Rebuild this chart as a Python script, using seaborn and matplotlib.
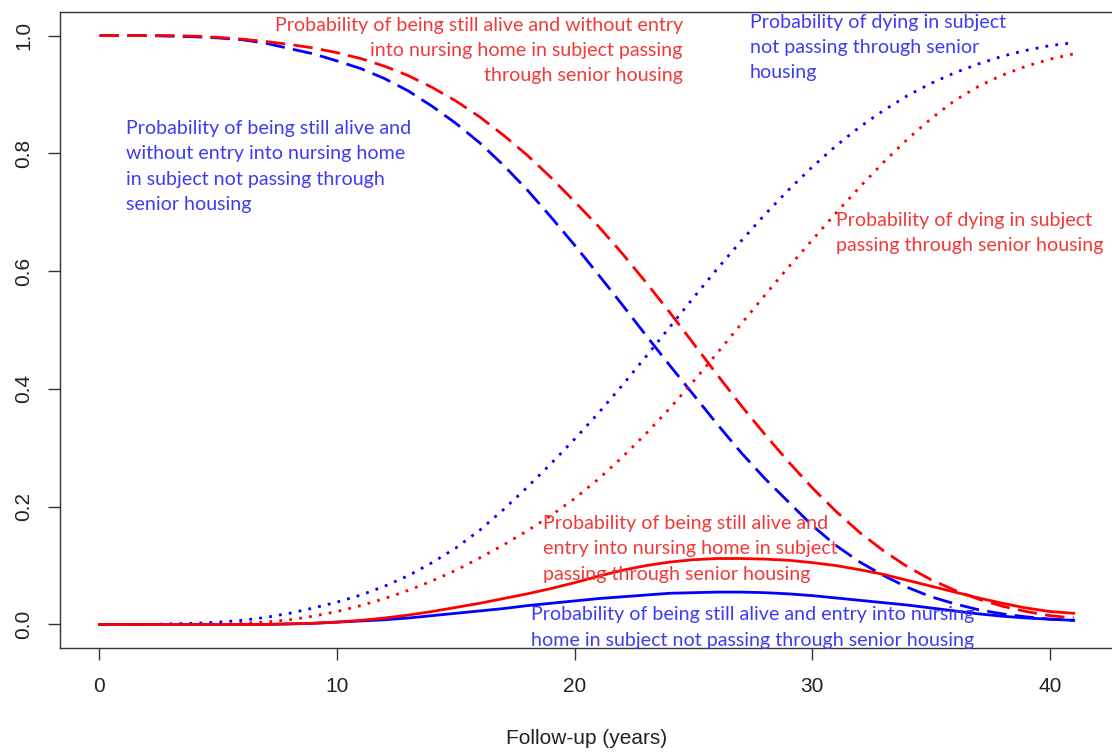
"""Multi-state survival curves: senior housing vs not, in R base-plot style."""

import numpy as np
import pandas as pd
import matplotlib
matplotlib.use("Agg")
import matplotlib.pyplot as plt
import seaborn as sns

# follow-up years
years = list(range(0, 42))

# alive, no nursing home entry
alive_no_nh_not_sh = [1.0, 1.0, 1.0, 0.999, 0.998, 0.996, 0.993, 0.987, 0.978, 0.969,
                      0.957, 0.944, 0.927, 0.906, 0.880, 0.851, 0.818, 0.780, 0.738, 0.692,
                      0.644, 0.594, 0.543, 0.491, 0.440, 0.390, 0.340, 0.292, 0.248, 0.208,
                      0.168, 0.134, 0.106, 0.083, 0.063, 0.047, 0.035, 0.025, 0.018, 0.013,
                      0.009, 0.007]
alive_no_nh_sh = [1.0, 1.0, 1.0, 1.0, 0.999, 0.997, 0.994, 0.990, 0.985, 0.979,
                  0.971, 0.961, 0.948, 0.932, 0.912, 0.889, 0.862, 0.831, 0.797, 0.759,
                  0.718, 0.676, 0.630, 0.581, 0.530, 0.477, 0.424, 0.372, 0.323, 0.276,
                  0.232, 0.192, 0.156, 0.125, 0.098, 0.076, 0.058, 0.043, 0.031, 0.022,
                  0.015, 0.011]

# dying
dead_not_sh = [0.0, 0.0, 0.0, 0.001, 0.002, 0.004, 0.007, 0.012, 0.019, 0.028,
               0.038, 0.050, 0.065, 0.083, 0.105, 0.130, 0.160, 0.195, 0.233, 0.273,
               0.315, 0.359, 0.406, 0.455, 0.505, 0.555, 0.604, 0.651, 0.696, 0.738,
               0.777, 0.813, 0.845, 0.873, 0.898, 0.919, 0.937, 0.952, 0.965, 0.975,
               0.983, 0.988]
dead_sh = [0.0, 0.0, 0.0, 0.0, 0.0, 0.0, 0.002, 0.004, 0.008, 0.014,
           0.022, 0.032, 0.044, 0.058, 0.074, 0.092, 0.113, 0.135, 0.159, 0.185,
           0.214, 0.247, 0.284, 0.324, 0.367, 0.413, 0.461, 0.510, 0.559, 0.607,
           0.653, 0.699, 0.743, 0.785, 0.824, 0.859, 0.890, 0.914, 0.933, 0.948,
           0.960, 0.969]

# alive, with nursing home entry
alive_nh_not_sh = [0.0, 0.0, 0.0, 0.0, 0.0, 0.0, 0.0, 0.0, 0.001, 0.002,
                   0.004, 0.006, 0.008, 0.011, 0.015, 0.019, 0.023, 0.027, 0.032, 0.036,
                   0.040, 0.044, 0.047, 0.050, 0.053, 0.054, 0.055, 0.055, 0.054, 0.052,
                   0.049, 0.045, 0.041, 0.037, 0.033, 0.028, 0.023, 0.018, 0.014, 0.011,
                   0.009, 0.007]
alive_nh_sh = [0.0, 0.0, 0.0, 0.0, 0.0, 0.0, 0.0, 0.0, 0.001, 0.002,
               0.004, 0.007, 0.011, 0.016, 0.022, 0.029, 0.036, 0.044, 0.052, 0.061,
               0.071, 0.082, 0.092, 0.100, 0.106, 0.110, 0.112, 0.112, 0.111, 0.109,
               0.105, 0.100, 0.093, 0.085, 0.075, 0.065, 0.055, 0.045, 0.036, 0.028,
               0.022, 0.019]

x_ticks = [0, 10, 20, 30, 40]
y_ticks = [0.0, 0.2, 0.4, 0.6, 0.8, 1.0]

plt.rcParams["font.family"] = ["Liberation Sans", "DejaVu Sans"]

fig = plt.figure(figsize=(11.12, 7.53), dpi=100)
ax = fig.add_axes([0.0544, 0.1394, 0.9462, 0.8446])

dashed = (0, (7, 3))
dotted = (0, (1, 2.6))
series = [
    (alive_no_nh_not_sh, "#0000FF", dashed),
    (alive_no_nh_sh, "#FF0000", dashed),
    (dead_not_sh, "#0000FF", dotted),
    (dead_sh, "#FF0000", dotted),
    (alive_nh_not_sh, "#0000FF", "-"),
    (alive_nh_sh, "#FF0000", "-"),
]
for vals, col, ls in series:
    df = pd.DataFrame({"t": years, "p": vals})
    sns.lineplot(data=df, x="t", y="p", ax=ax, color=col, linestyle=ls,
                 linewidth=2.0, legend=False)

ax.set_xlim(-1.64, 42.64)
ax.set_ylim(-0.04, 1.04)
ax.set_xticks(x_ticks)
ax.set_xticklabels([str(v) for v in x_ticks])
ax.set_yticks(y_ticks)
ax.set_yticklabels([f"{v:.1f}" for v in y_ticks], rotation=90, va="center")
ax.tick_params(length=8.6, width=1, color="#333333", labelsize=15, labelcolor="#222222")
ax.tick_params(axis="x", pad=12)
ax.tick_params(axis="y", pad=11)
for sp in ax.spines.values():
    sp.set_color("#333333")
    sp.set_linewidth(1)
ax.set_xlabel("Follow-up (years)", fontsize=15, color="#222222", labelpad=24)
ax.set_ylabel("")

blue_txt = "#3C3CF2"
red_txt = "#F03A3A"
font = dict(family=["Lato", "DejaVu Sans"], fontsize=14.1, linespacing=1.6)


def px(x, y):
    # reference pixel -> data coordinates
    return (x - 100) / 23.75, (624 - y) / 590


ax.text(*px(683, 49), "Probability of being still alive and without entry\n"
        "into nursing home in subject passing\nthrough senior housing",
        color=red_txt, ha="right", va="center", multialignment="right", **font)
ax.text(*px(750, 46), "Probability of dying in subject\nnot passing through senior\nhousing",
        color=blue_txt, ha="left", va="center", **font)
ax.text(*px(127, 165), "Probability of being still alive and\nwithout entry into nursing home\n"
        "in subject not passing through\nsenior housing",
        color=blue_txt, ha="left", va="center", **font)
ax.text(*px(836, 232), "Probability of dying in subject\npassing through senior housing",
        color=red_txt, ha="left", va="center", **font)
ax.text(*px(543, 548), "Probability of being still alive and\nentry into nursing home in subject\n"
        "passing through senior housing",
        color=red_txt, ha="left", va="center", **font)
ax.text(*px(531, 627), "Probability of being still alive and entry into nursing\n"
        "home in subject not passing through senior housing",
        color=blue_txt, ha="left", va="center", **font)

fig.savefig("out.png", dpi=100)
